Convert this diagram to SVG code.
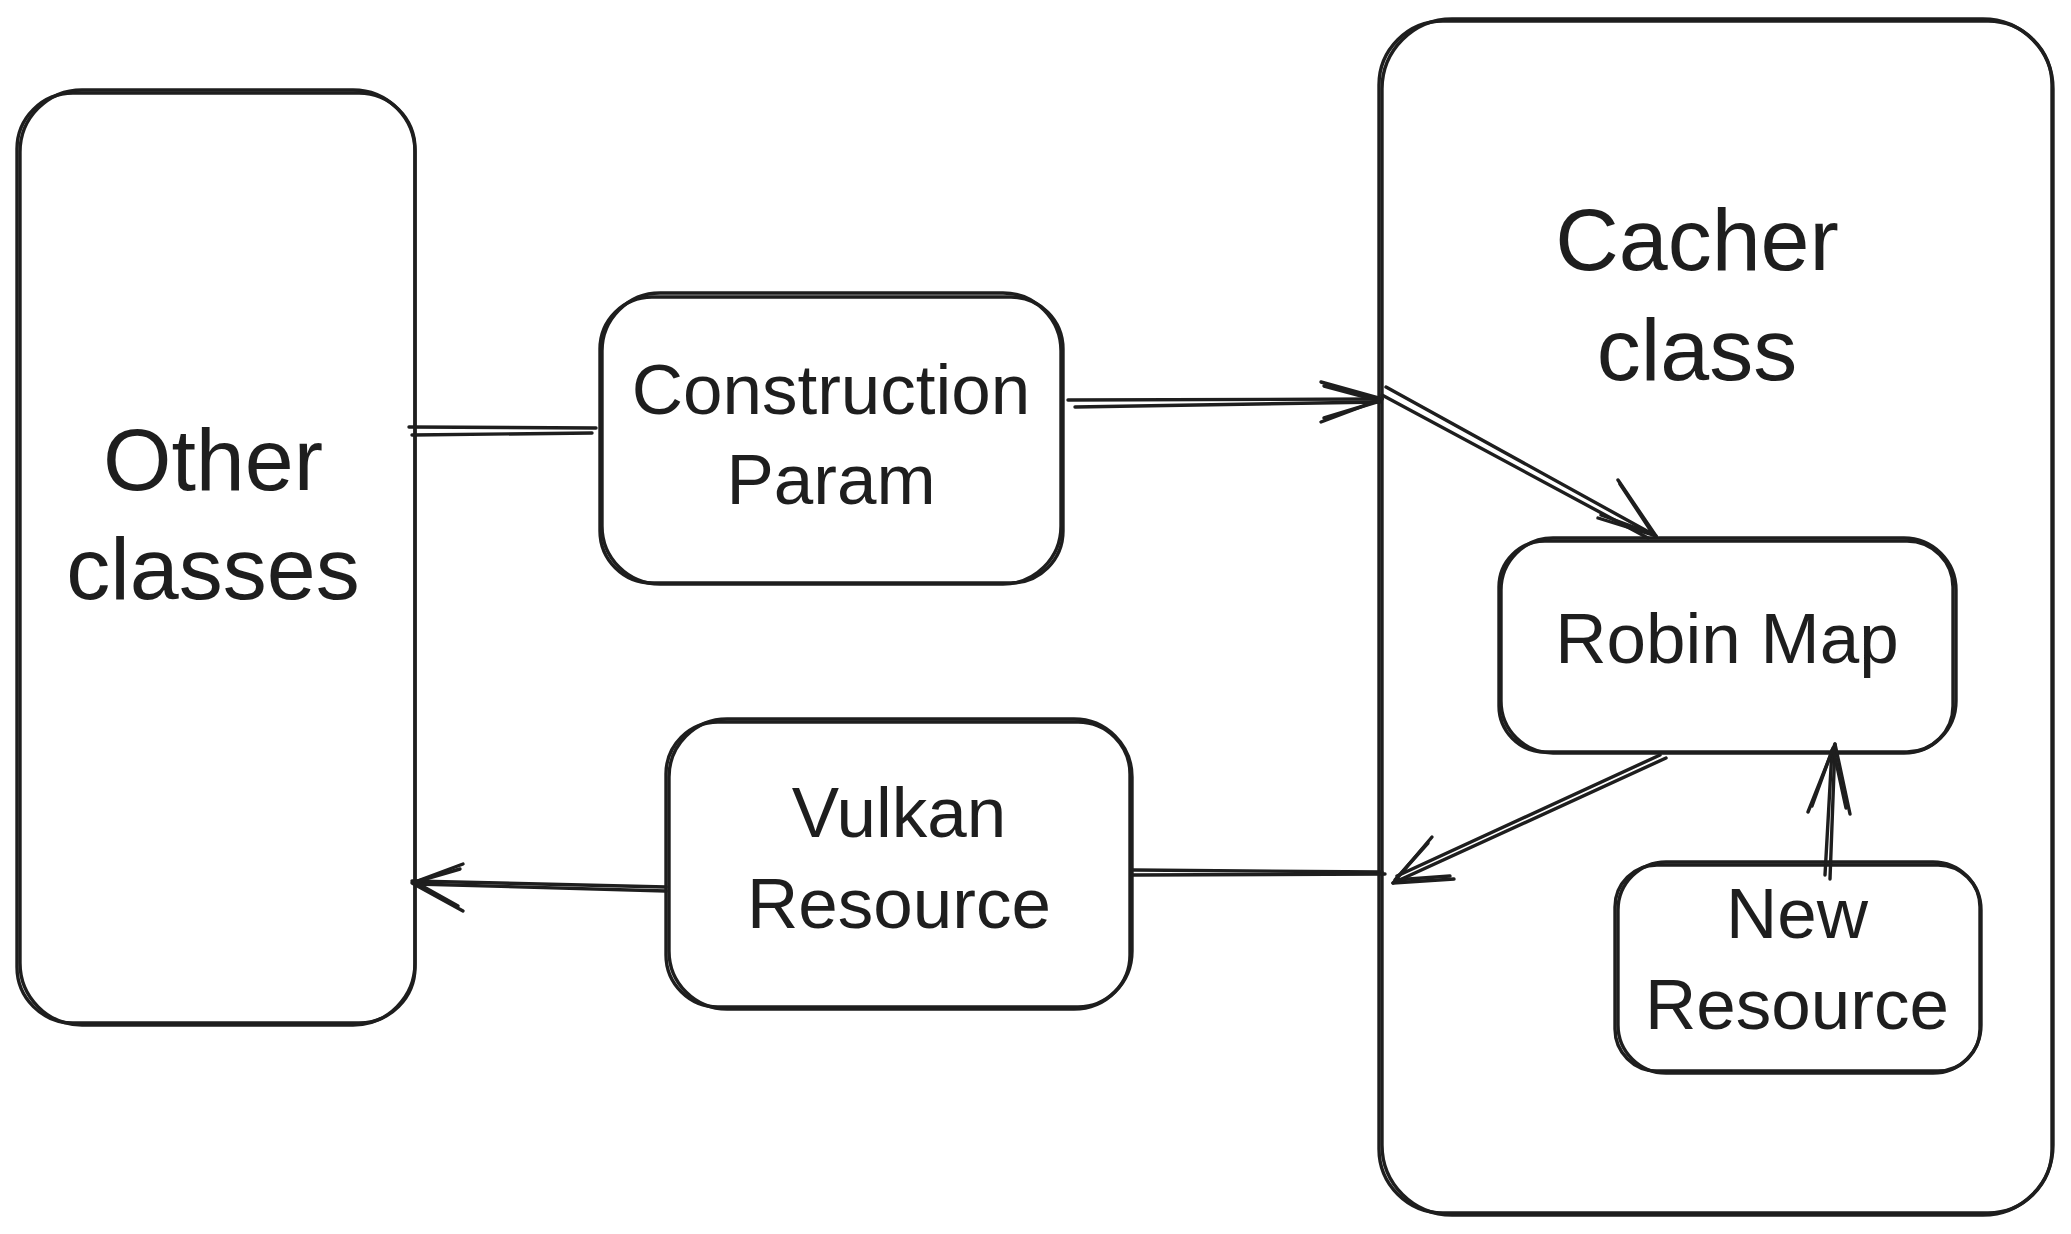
<svg xmlns="http://www.w3.org/2000/svg" width="2071" height="1234" viewBox="0 0 2071 1234">
<style>
.s{fill:none;stroke:#1e1e1e;stroke-width:3.4;stroke-linecap:round;stroke-linejoin:round}
.t{fill:#1e1e1e;font-family:"Liberation Sans","DejaVu Sans",sans-serif;text-anchor:middle}
.big{font-size:88px}
.sm{font-size:71px}
</style>
<rect width="2071" height="1234" fill="#ffffff"/>
<g id="other-classes">
<rect class="s" x="17" y="93" width="398" height="930" rx="56"/>
<rect class="s" x="20" y="90" width="395" height="935" rx="62"/>
<text class="t big" x="213" y="490">Other</text>
<text class="t big" x="213" y="599">classes</text>
</g>
<g id="construction-param">
<rect class="s" x="600" y="297" width="463" height="286" rx="52"/>
<rect class="s" x="602" y="293" width="459" height="291" rx="58"/>
<text class="t sm" x="831" y="414">Construction</text>
<text class="t sm" x="831" y="504">Param</text>
</g>
<g id="cacher-class">
<rect class="s" x="1379" y="21" width="673" height="1192" rx="64"/>
<rect class="s" x="1382" y="19" width="671" height="1196" rx="70"/>
<text class="t big" x="1697" y="270">Cacher</text>
<text class="t big" x="1697" y="380">class</text>
</g>
<g id="robin-map">
<rect class="s" x="1499" y="541" width="454" height="211" rx="46"/>
<rect class="s" x="1501" y="538" width="455" height="215" rx="52"/>
<text class="t sm" x="1727" y="663">Robin Map</text>
</g>
<g id="vulkan-resource">
<rect class="s" x="666" y="722" width="464" height="285" rx="52"/>
<rect class="s" x="669" y="719" width="463" height="290" rx="58"/>
<text class="t sm" x="899" y="837">Vulkan</text>
<text class="t sm" x="899" y="928">Resource</text>
</g>
<g id="new-resource">
<rect class="s" x="1615" y="865" width="365" height="206" rx="42"/>
<rect class="s" x="1618" y="862" width="363" height="211" rx="48"/>
<text class="t sm" x="1797" y="938">New</text>
<text class="t sm" x="1797" y="1029">Resource</text>
</g>
<g id="connectors">
<!-- Other classes - Construction Param -->
<line class="s" x1="409" y1="427" x2="596" y2="428"/>
<line class="s" x1="412" y1="435" x2="592" y2="433"/>
<!-- Construction Param -> Cacher -->
<line class="s" x1="1068" y1="400" x2="1382" y2="399"/>
<line class="s" x1="1075" y1="407" x2="1380" y2="402"/>
<polyline class="s" points="1321,382 1382,399 1321,422"/>
<polyline class="s" points="1324,386 1380,401 1324,418"/>
<!-- Cacher -> Robin Map -->
<line class="s" x1="1386" y1="387" x2="1656" y2="536"/>
<line class="s" x1="1382" y1="395" x2="1648" y2="538"/>
<polyline class="s" points="1618,480 1656,536 1598,518"/>
<polyline class="s" points="1620,484 1653,534 1601,515"/>
<!-- Robin Map -> Cacher -->
<line class="s" x1="1666" y1="758" x2="1393" y2="883"/>
<line class="s" x1="1660" y1="755" x2="1397" y2="876"/>
<polyline class="s" points="1432,837 1393,883 1454,879"/>
<polyline class="s" points="1428,843 1395,880 1450,876"/>
<!-- Cacher - Vulkan Resource -->
<line class="s" x1="1133" y1="870" x2="1382" y2="872"/>
<line class="s" x1="1133" y1="875" x2="1385" y2="874"/>
<!-- Vulkan Resource -> Other classes -->
<line class="s" x1="666" y1="887" x2="412" y2="881"/>
<line class="s" x1="666" y1="891" x2="416" y2="884"/>
<polyline class="s" points="463,864 412,883 463,911"/>
<polyline class="s" points="460,869 415,882 458,906"/>
<!-- New Resource -> Robin Map -->
<line class="s" x1="1830" y1="879" x2="1835" y2="744"/>
<line class="s" x1="1825" y1="875" x2="1832" y2="750"/>
<polyline class="s" points="1808,812 1835,744 1850,814"/>
<polyline class="s" points="1812,806 1833,748 1846,808"/>
</g>
</svg>
